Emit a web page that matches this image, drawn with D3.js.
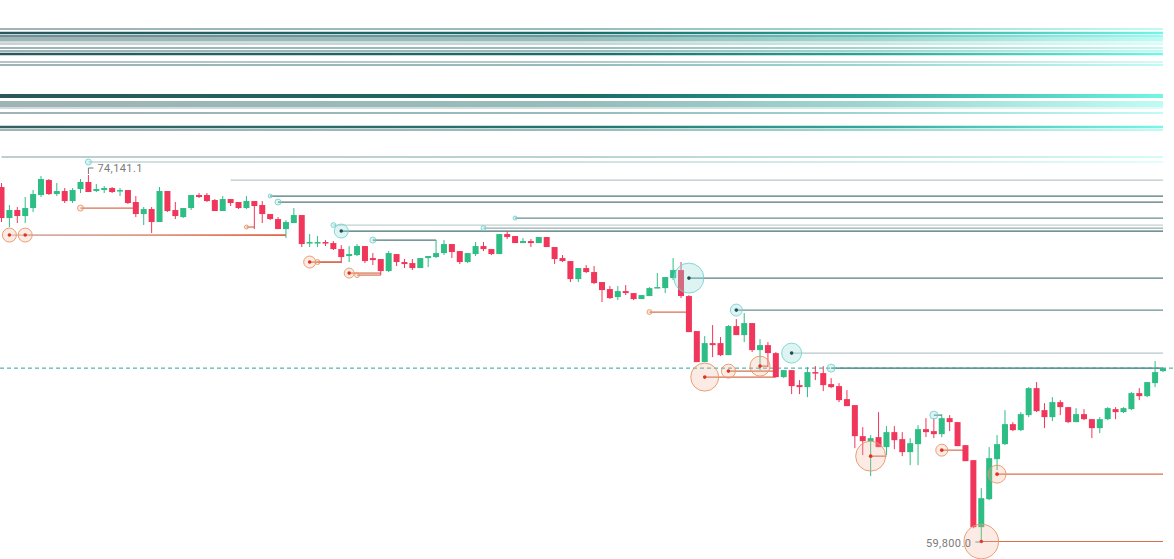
<!DOCTYPE html>
<html>
<head>
<meta charset="utf-8">
<script src="https://cdn.jsdelivr.net/npm/d3@7.9.0/dist/d3.min.js"></script>
<style>
  html, body { margin: 0; padding: 0; background: #fff; }
  svg { display: block; font-family: Roboto, "DejaVu Sans", sans-serif; }
</style>
</head>
<body>
<svg id="chart" width="1174" height="559"></svg>
<script>
// candles: [open, high, low, close]
const ohlc = [
  [73670,73826,72298,72454],[72454,72964,72102,72768],[72768,72886,72258,72533],[72533,73278,72258,72846],
  [72846,73552,72690,73395],[73356,74101,73278,73983],[73944,73983,73356,73395],[73395,73826,73317,73513],
  [73513,73630,73042,73121],[73121,73630,73042,73552],[73591,73983,73434,73866],[73866,74141.1,73474,73474],
  [73513,73787,73474,73591],[73552,73709,73434,73630],[73630,73670,73434,73474],[73513,73630,73317,73552],
  [73552,73552,73003,73042],[73082,73317,72494,72611],[72611,72886,72180,72807],[72807,72886,71866,72298],
  [72298,73670,72298,73513],[73513,73513,72690,72729],[72768,73082,72415,72533],[72494,72846,72454,72846],
  [72846,73356,72768,73356],[73356,73434,73238,73278],[73356,73434,73082,73121],[73160,73199,72729,72729],
  [72729,73317,72729,73199],[73199,73199,72925,73042],[73082,73082,72807,72846],[72846,73317,72807,73121],
  [73121,73121,72023,72925],[72964,73121,72258,72611],[72611,72611,72376,72415],[72415,72494,72023,72023],
  [72023,72376,71670,72298],[72258,72846,72258,72572],[72572,72572,71318,71435],[71474,71827,71318,71514],
  [71474,71749,71318,71514],[71514,71592,71357,71474],[71474,71553,71200,71239],[71239,71396,70690,70926],
  [70965,71357,70730,71043],[71004,71435,70965,71357],[71357,71357,70690,70769],[70886,71082,70612,70808],
  [70847,70847,70220,70377],[70377,71161,70338,71082],[71043,71043,70573,70730],[70730,70847,70494,70651],
  [70690,70847,70416,70494],[70494,70886,70494,70886],[70886,70965,70534,70965],[70926,71592,70886,71082],
  [71082,71592,71004,71435],[71435,71435,70886,71122],[71161,71161,70651,70730],[70730,71082,70690,71082],
  [71043,71514,70965,71357],[71357,71514,71161,71239],[71239,71239,71004,71043],[71043,71827,71043,71827],
  [71827,71945,71631,71710],[71749,71749,71474,71474],[71474,71670,71474,71553],[71553,71631,71318,71474],
  [71474,71710,71474,71710],[71710,71710,71318,71318],[71318,71318,70651,70847],[70886,71004,70730,70769],
  [70769,70769,69946,70063],[70063,70494,69946,70494],[70494,70612,70298,70338],[70338,70573,69867,69906],
  [69946,69946,69162,69632],[69671,69789,69279,69318],[69358,69789,69240,69593],[69593,69828,69436,69514],
  [69514,69514,69240,69279],[69279,69436,69279,69436],[69397,69750,69397,69710],[69710,70298,69710,69750],
  [69710,70142,69514,70142],[70102,70886,70024,70416],[70416,70730,69318,69397],[69397,69436,67986,67986],
  [68025,68025,66810,66810],[66810,67829,66810,67554],[67554,68260,67006,67476],[67554,67790,67045,67084],
  [67084,68260,67084,68221],[68221,68495,67868,67868],[67868,68730,67594,68338],[68338,68338,67202,67280],
  [67280,67711,66496,67476],[67476,67594,66614,67162],[67162,67202,66222,66222],[66222,66496,66182,66496],
  [66496,66496,65555,65869],[65908,66104,65555,65830],[65830,66614,65438,66418],[66418,66653,66104,66378],
  [66378,66653,65673,65908],[65947,66182,65790,65830],[65869,65986,65242,65320],[65359,65712,65085,65085],
  [65124,65124,63438,63909],[63909,64262,63164,63713],[63713,63948,62341,63830],[63870,64850,63478,63478],
  [63478,64301,63164,64066],[64066,64301,63399,63752],[63791,64066,63125,63282],[63282,63830,62772,63634],
  [63595,64340,62772,64183],[64183,64614,63870,64066],[64105,64614,63830,63987],[63987,64771,63870,64614],
  [64614,64732,64105,64458],[64458,64458,63517,63517],[63556,63556,62929,62929],[62968,62968,60302,60342],
  [60342,61870,59800,61478],[61439,63478,61400,63046],[63007,63948,62576,63595],[63595,64928,63556,64379],
  [64379,64458,64105,64144],[64144,64850,64105,64771],[64732,65830,64654,65790],[65790,66026,64850,64889],
  [64928,65202,64222,64654],[64654,65438,64497,65242],[65242,65320,64732,65046],[65046,65046,64418,64458],
  [64458,65006,64458,64771],[64771,64967,64536,64575],[64575,64575,63830,64222],[64222,64654,64026,64575],
  [64575,65046,64536,65006],[64967,65046,64575,64850],[64850,65046,64810,65006],[64967,65634,64928,65594],
  [65594,65790,65320,65477],[65477,66026,65438,66026],[65986,66849,65830,66418],[66457,66574,66418,66574]
];

// short liquidation clusters far above price (opened before the window)
const upperPrices  = [79863,79706,79589,79510,79432,79354,79275,79118,79001,78883,78570,78452,
                      77237,77002,76923,76845,76766,76570,76022,75904];
const upperVolumes = [12,28,16,11,11,10,16,11,11,26,22,11,42,11,11,11,10,11,26,12];
const upperAge     = [0.9,1,0.9,0.9,0.9,0.45,0.35,0.9,0.9,1,0.35,0.9,1,0.9,0.9,0.9,0.45,0.9,0.95,0.9];

// short liquidation levels (above price): start/end = candle index, end null = still open
const shortLevels = [
  {price: 74846, start: 0,   end: null, vol: 0,   age: 0.6},
  {price: 74650, start: 11,  end: null, vol: 9,   age: 0.4},
  {price: 73944, start: 29,  end: null, vol: 0,   age: 0.35},
  {price: 73317, start: 34,  end: null, vol: 1,   age: 0.85},
  {price: 73082, start: 35,  end: null, vol: 9,   age: 0.85},
  {price: 72454, start: 65,  end: null, vol: 1,   age: 0.7},
  {price: 72180, start: 42,  end: null, vol: 6,   age: 0.3},
  {price: 72062, start: 61,  end: null, vol: 6,   age: 0.5},
  {price: 71945, start: 43,  end: null, vol: 49,  age: 0.9},
  {price: 71592, start: 47,  end: 55,   vol: 9,   age: 0.85},
  {price: 70102, start: 87,  end: null, vol: 225, age: 0.8},
  {price: 68848, start: 93,  end: null, vol: 36,  age: 0.7},
  {price: 67162, start: 100, end: null, vol: 100, age: 0.35},
  {price: 66574, start: 105, end: null, vol: 16,  age: 0.9},
  {price: 64732, start: 118, end: 119,  vol: 16,  age: 0.8}
];

// long liquidation levels (below price)
const longLevels = [
  {price: 71788, start: 1,   end: 36,   vol: 49},
  {price: 71788, start: 3,   end: 36,   vol: 49},
  {price: 72846, start: 10,  end: 17,   vol: 9},
  {price: 72102, start: 31,  end: 32,   vol: 4},
  {price: 70730, start: 39,  end: 43,   vol: 36},
  {price: 70730, start: 40,  end: 43,   vol: 6},
  {price: 70298, start: 44,  end: 48,   vol: 25},
  {price: 70220, start: 45,  end: 48,   vol: 6},
  {price: 68770, start: 82,  end: 87,   vol: 6},
  {price: 66222, start: 89,  end: 98,   vol: 196},
  {price: 66457, start: 92,  end: 98,   vol: 49},
  {price: 66653, start: 96,  end: 97,   vol: 100},
  {price: 63125, start: 110, end: 112,  vol: 225},
  {price: 63360, start: 119, end: 122,  vol: 36},
  {price: 62419, start: 126, end: null, vol: 81},
  {price: 59780, start: 124, end: null, vol: 300}
];

const lastPrice = ohlc[ohlc.length - 1][3];

const svg = d3.select('#chart');
const x = d3.scaleLinear().domain([0, ohlc.length - 1]).range([1.5, 1163]);
const y = d3.scaleLinear().domain([59800, 74141.1]).range([541, 175]);
const rad = d3.scaleSqrt().domain([0, 300]).range([0, 17.3]);
const widthScale = d3.scaleLinear().domain([0, 42]).range([0, 4]);
const xRight = x(ohlc.length - 1);

const up = '#2ebd85', down = '#f0365a';

// gradients
const defs = svg.append('defs');
const cyanGrad = defs.append('linearGradient')
  .attr('id', 'cyanGrad').attr('gradientUnits', 'userSpaceOnUse')
  .attr('x1', 0).attr('x2', xRight).attr('y1', 0).attr('y2', 0);
cyanGrad.selectAll('stop')
  .data([[0, '#2a585c'], [0.5, '#1a6c69'], [0.75, '#2aa496'], [1, '#72f6e6']])
  .enter().append('stop')
  .attr('offset', d => d[0]).attr('stop-color', d => d[1]);

const orangeGrad = defs.append('linearGradient')
  .attr('id', 'orangeGrad').attr('gradientUnits', 'userSpaceOnUse')
  .attr('x1', x(1)).attr('x2', x(36)).attr('y1', 0).attr('y2', 0);
orangeGrad.selectAll('stop')
  .data([[0, '#c9aaa6'], [0.5, '#d98b70'], [1, '#e04a25']])
  .enter().append('stop')
  .attr('offset', d => d[0]).attr('stop-color', d => d[1]);

// upper band of old short levels
svg.append('g').selectAll('line')
  .data(upperPrices)
  .enter().append('line')
  .attr('x1', 0).attr('x2', xRight)
  .attr('y1', d => y(d)).attr('y2', d => y(d))
  .attr('stroke', 'url(#cyanGrad)')
  .attr('stroke-width', (d, i) => widthScale(upperVolumes[i]))
  .attr('stroke-opacity', (d, i) => upperAge[i]);

// short level lines
const shortG = svg.append('g');
shortG.selectAll('line')
  .data(shortLevels)
  .enter().append('line')
  .attr('x1', d => x(d.start))
  .attr('x2', d => d.end === null ? xRight : x(d.end))
  .attr('y1', d => y(d.price)).attr('y2', d => y(d.price))
  .attr('stroke', d => d.price > 74000 ? 'url(#cyanGrad)' : '#2f5e62')
  .attr('stroke-width', 1.2)
  .attr('stroke-opacity', d => d.age);

// long level lines
const longG = svg.append('g');
longG.selectAll('line')
  .data(longLevels)
  .enter().append('line')
  .attr('x1', d => x(d.start))
  .attr('x2', d => d.end === null ? xRight : x(d.end))
  .attr('y1', d => y(d.price)).attr('y2', d => y(d.price))
  .attr('stroke', (d, i) => i < 2 ? 'url(#orangeGrad)' : '#d0562f')
  .attr('stroke-width', 1.2)
  .attr('stroke-opacity', 0.85);

// current price
svg.append('line')
  .attr('x1', 0).attr('x2', 1174)
  .attr('y1', y(lastPrice)).attr('y2', y(lastPrice))
  .attr('stroke', '#26a69a')
  .attr('stroke-width', 1)
  .attr('stroke-dasharray', '4,3');

// candles
const cg = svg.append('g').selectAll('g')
  .data(ohlc)
  .enter().append('g');
cg.append('line')
  .attr('x1', (d, i) => x(i)).attr('x2', (d, i) => x(i))
  .attr('y1', d => y(d[1])).attr('y2', d => y(d[2]))
  .attr('stroke', d => d[3] >= d[0] ? up : down)
  .attr('stroke-width', 1);
cg.append('rect')
  .attr('x', (d, i) => x(i) - 3)
  .attr('width', 6)
  .attr('y', d => y(Math.max(d[0], d[3])))
  .attr('height', d => Math.max(1.5, Math.abs(y(d[0]) - y(d[3]))))
  .attr('fill', d => d[3] >= d[0] ? up : down);

// bubbles
function bubbles(levels, fill, stroke, dot) {
  const g = svg.append('g').selectAll('g')
    .data(levels.filter(d => d.vol > 0))
    .enter().append('g')
    .attr('transform', d => `translate(${x(d.start)},${y(d.price)})`);
  g.append('circle')
    .attr('r', d => Math.max(2, rad(d.vol)))
    .attr('fill', fill)
    .attr('stroke', stroke)
    .attr('stroke-width', 1);
  g.filter(d => rad(d.vol) >= 4).append('circle')
    .attr('r', 1.8)
    .attr('fill', dot);
}
bubbles(shortLevels, 'rgba(150,220,218,0.32)', 'rgba(110,210,208,0.85)', '#1f4f52');
bubbles(longLevels, 'rgba(245,175,150,0.25)', 'rgba(232,150,100,0.9)', '#e0301e');

// high / low labels
const hiIdx = d3.maxIndex(ohlc, d => d[1]);
const loIdx = d3.minIndex(ohlc, d => d[2]);
const fmt = d3.format(',.1f');
const hx = x(hiIdx), hy = y(ohlc[hiIdx][1]);
svg.append('path')
  .attr('d', `M${hx},${hy - 1}V${hy - 7}H${hx + 5}`)
  .attr('fill', 'none').attr('stroke', '#777').attr('stroke-width', 1);
svg.append('text')
  .attr('x', hx + 9).attr('y', hy - 3)
  .attr('font-size', 11).attr('letter-spacing', 0.4).attr('fill', '#7a7a7a')
  .text(fmt(ohlc[hiIdx][1]));

const lx = x(loIdx), ly = y(ohlc[loIdx][2]);
svg.append('path')
  .attr('d', `M${lx},${ly + 1}H${lx - 6}`)
  .attr('fill', 'none').attr('stroke', '#999').attr('stroke-width', 1);
svg.append('text')
  .attr('x', lx - 10).attr('y', ly + 6)
  .attr('text-anchor', 'end')
  .attr('font-size', 11).attr('letter-spacing', 0.4).attr('fill', '#7a7a7a')
  .text(fmt(ohlc[loIdx][2]));
</script>
</body>
</html>
